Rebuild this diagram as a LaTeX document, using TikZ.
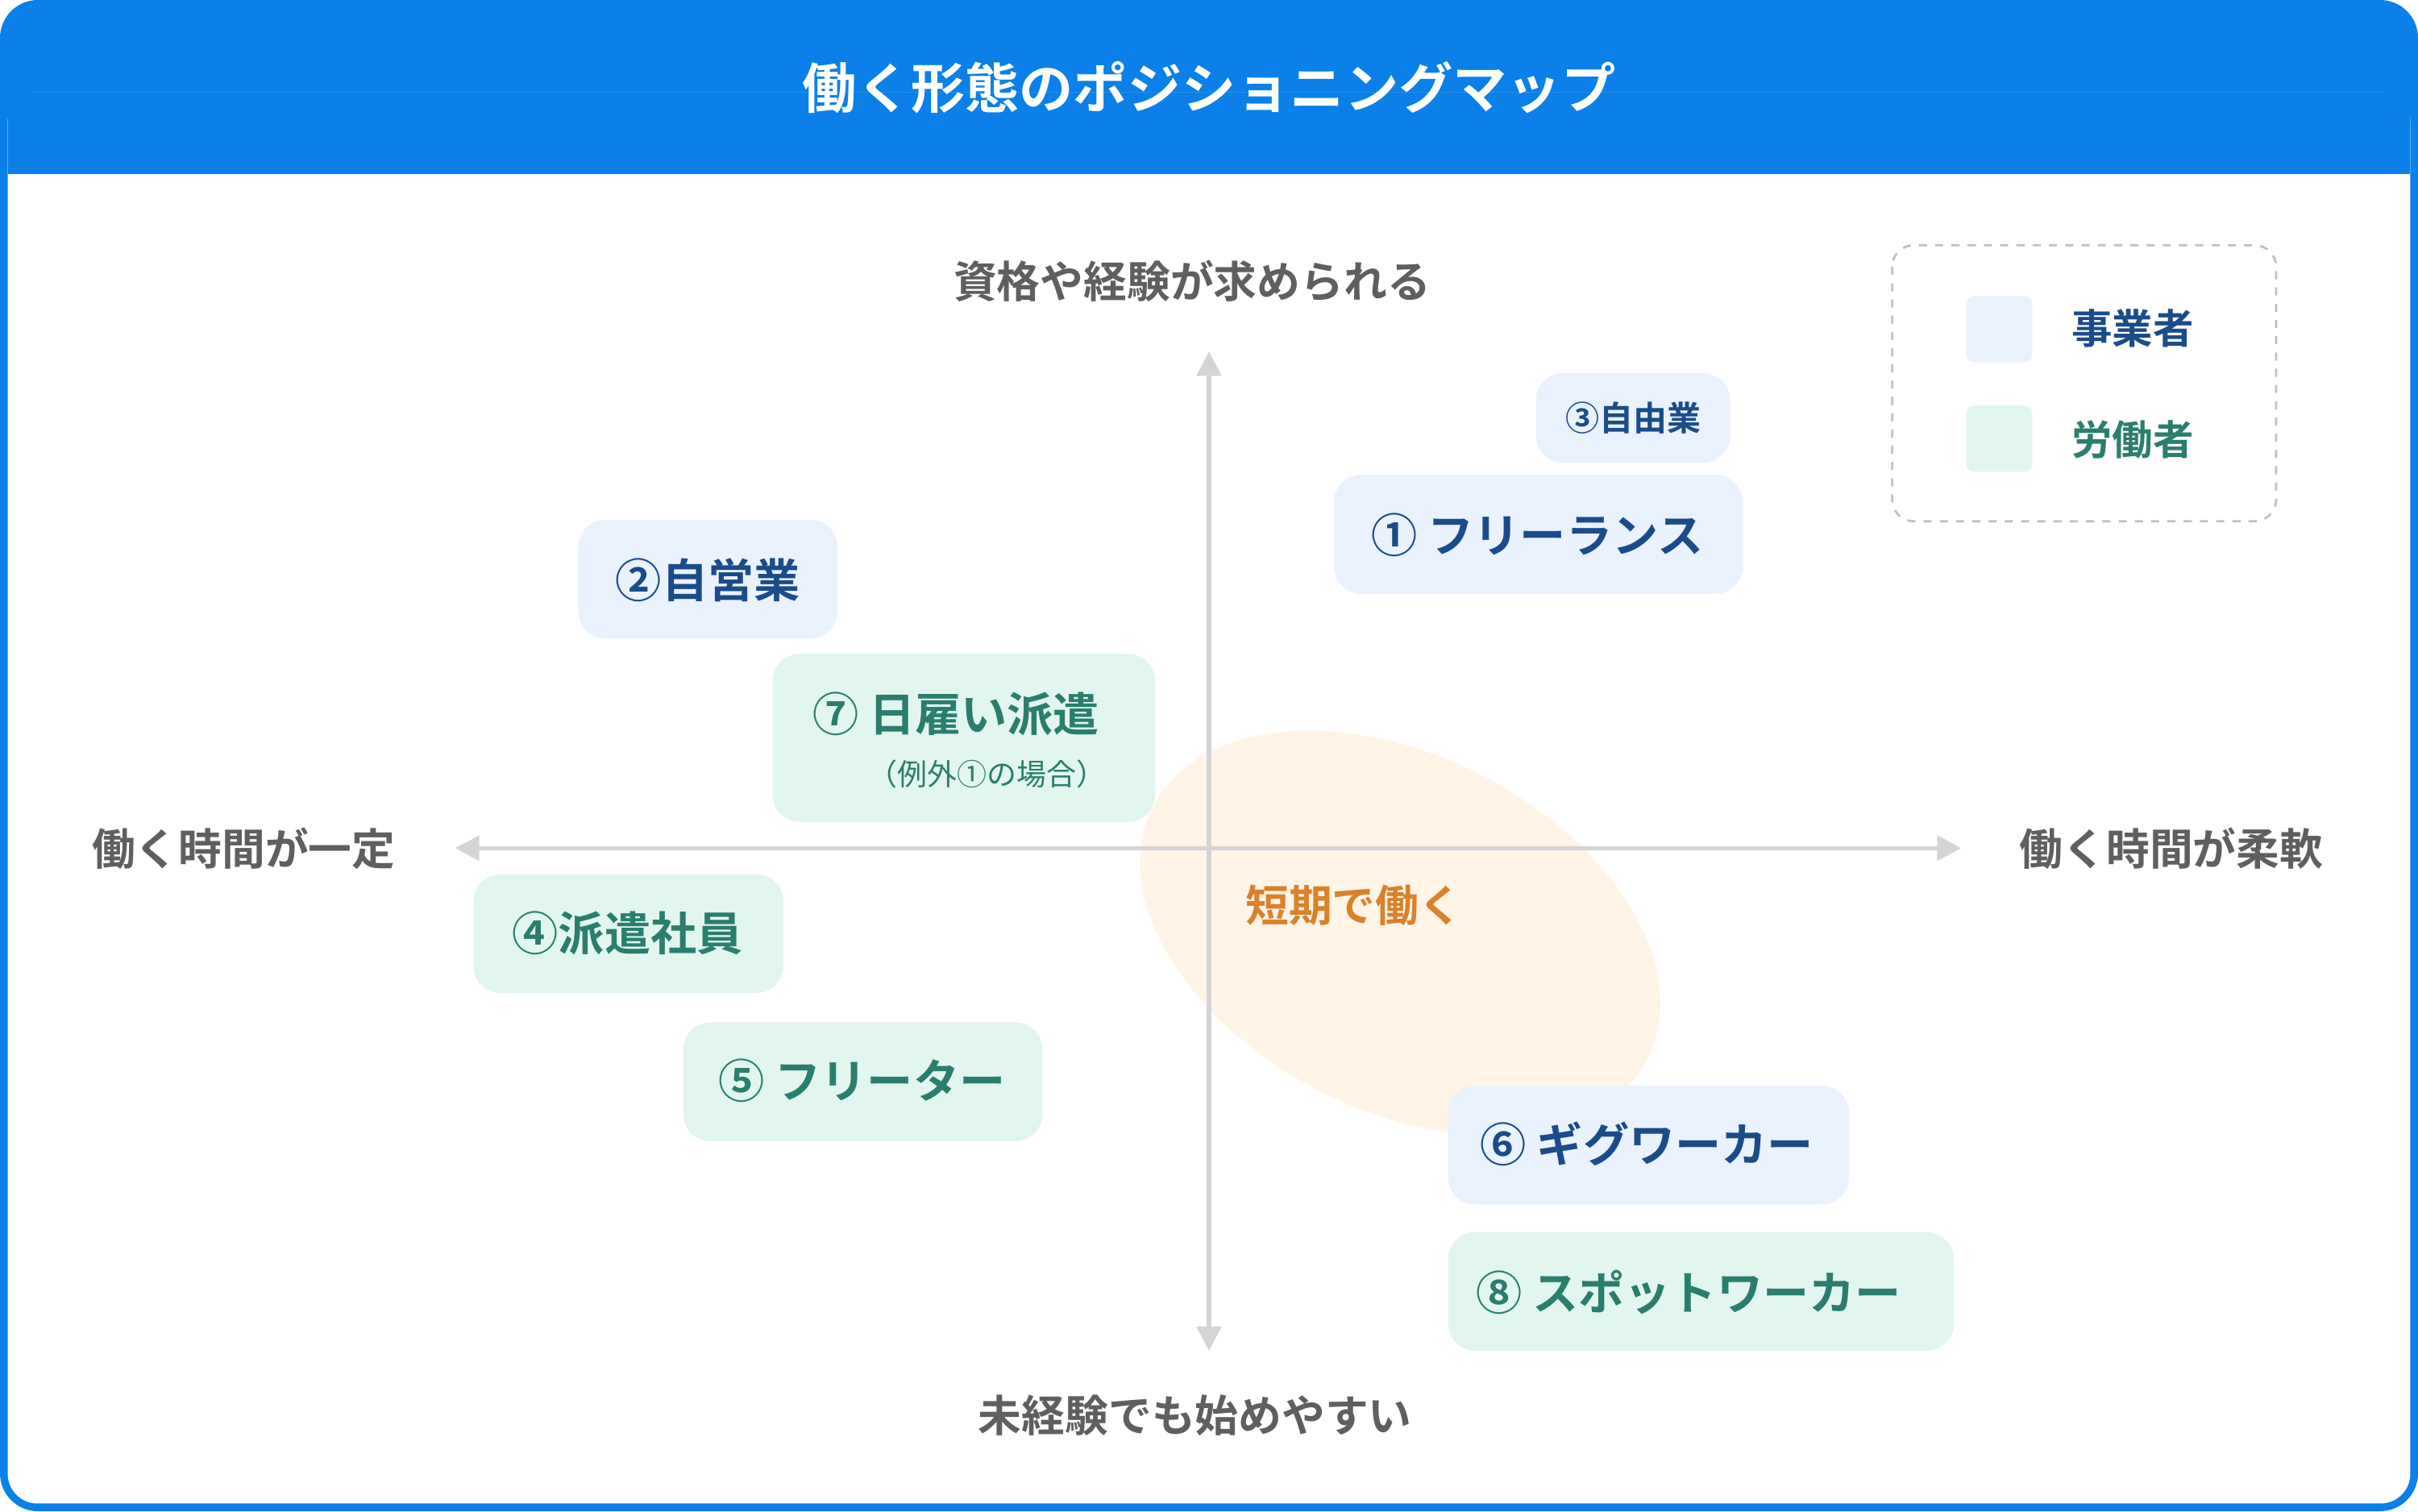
\documentclass[tikz,border=0pt]{standalone}
\usepackage{fontspec}
\setmainfont{Noto Sans CJK JP}[BoldFont={* Bold}]
\usetikzlibrary{arrows.meta}
\definecolor{hdr}{HTML}{0A80E8}
\definecolor{bfill}{HTML}{EAF2FD}
\definecolor{btext}{HTML}{1A4C8A}
\definecolor{gfill}{HTML}{E2F6F0}
\definecolor{gtext}{HTML}{2A7E6E}
\definecolor{axg}{HTML}{D4D4D4}
\definecolor{lbl}{HTML}{5F5F5F}
\definecolor{ora}{HTML}{D9822B}
\definecolor{ell}{HTML}{FFF4E6}
\tikzset{
 fs/.style={font=\fontsize{#1}{#1}\selectfont\bfseries},
 bbox/.style={fill=bfill,rounded corners=10pt,text=btext,fs=17},
 gbox/.style={fill=gfill,rounded corners=10pt,text=gtext,fs=17},
 axlbl/.style={text=lbl,fs=16},
 axis/.style={draw=axg,line width=1.6pt,{Triangle[length=9pt,width=9pt]}-{Triangle[length=9pt,width=9pt]}}
}
\begin{document}
\begin{tikzpicture}[x=0.02cm,y=-0.02cm]
\useasboundingbox (0,0) rectangle (1568,980);
\fill[hdr,rounded corners=14pt] (0,0) rectangle (1568,980);
\fill[white,rounded corners=11pt] (5,60) rectangle (1563,975);
\fill[hdr] (5,60) rectangle (1563,113);
\node[text=white,fs=20] (title) at (784,57) {働く形態のポジショニングマップ};
% ellipse
\fill[ell,rotate around={-27:(908,605)}] (908,605) ellipse [x radius=18*0.2cm*1.0,y radius=2.3cm];
\node[coordinate] (t) at (784,228) {};
\node[coordinate] (b) at (784,876) {};
\node[coordinate] (l) at (295,550) {};
\node[coordinate] (r) at (1272,550) {};
\draw[axis] (t) -- (b);
\draw[axis] (l) -- (r);
\node[axlbl] (lt) at (773,182) {資格や経験が求められる};
\node[axlbl] (lb) at (775,918) {未経験でも始めやすい};
\node[axlbl] (ll) at (158,550) {働く時間が一定};
\node[axlbl] (lr) at (1408,550) {働く時間が柔軟};
\node[text=ora,fs=16] (tanki) at (878,587) {短期で働く};
% boxes
\fill[bfill,rounded corners=10pt] (996,242) rectangle (1122,300);
\node[text=btext,fs=12.5] (n3) at (1059,271) {③自由業};
\fill[bfill,rounded corners=10pt] (865,308) rectangle (1130,385);
\node[text=btext,fs=17] (n1) at (997,347) {① フリーランス};
\fill[bfill,rounded corners=10pt] (375,337) rectangle (543,414);
\node[text=btext,fs=17] (n2) at (459,376) {②自営業};
\fill[gfill,rounded corners=10pt] (501,424) rectangle (749,533);
\node[text=gtext,fs=17] (n7) at (620,463) {⑦ 日雇い派遣};
\node[text=gtext,font=\fontsize{11}{11}\selectfont] (n7s) at (640,502) {（例外①の場合）};
\fill[gfill,rounded corners=10pt] (307,567) rectangle (508,644);
\node[text=gtext,fs=17] (n4) at (407,605) {④派遣社員};
\fill[gfill,rounded corners=10pt] (443,663) rectangle (676,740);
\node[text=gtext,fs=17] (n5) at (559,701) {⑤ フリーター};
\fill[bfill,rounded corners=10pt] (939,704) rectangle (1199,781);
\node[text=btext,fs=17] (n6) at (1068,742) {⑥ ギグワーカー};
\fill[gfill,rounded corners=10pt] (939,799) rectangle (1267,876);
\node[text=gtext,fs=17] (n8) at (1095,838) {⑧ スポットワーカー};
% legend
\draw[lbl!40,dashed,line width=0.8pt,rounded corners=8pt] (1227,159) rectangle (1476,338);
\fill[bfill,rounded corners=3pt] (1275,192) rectangle (1318,235);
\fill[gfill,rounded corners=3pt] (1275,263) rectangle (1318,306);
\node[text=btext,fs=15] (le1) at (1383,213) {事業者};
\node[text=gtext,fs=15] (le2) at (1383,285) {労働者};
\end{tikzpicture}
\end{document}
